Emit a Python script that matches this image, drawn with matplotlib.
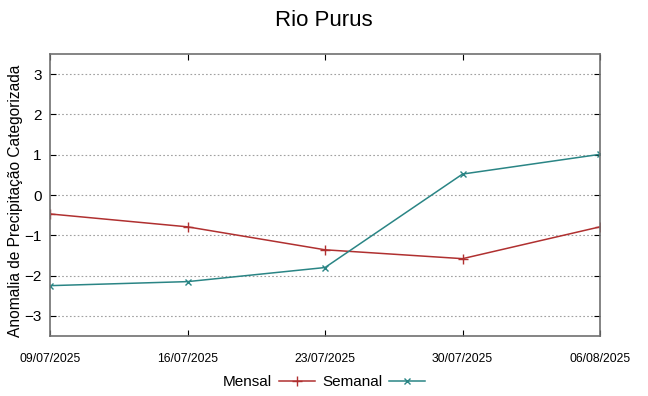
import datetime as dt

import matplotlib
matplotlib.use("Agg")
import matplotlib.pyplot as plt
import matplotlib.dates as mdates


datas = ["09/07/2025", "16/07/2025", "23/07/2025", "30/07/2025", "06/08/2025"]
mensal = [-0.47, -0.79, -1.36, -1.58, -0.79]
semanal = [-2.25, -2.15, -1.80, 0.52, 1.01]
y_ticks = [-3, -2, -1, 0, 1, 2, 3]

plt.rcParams["font.family"] = ["Liberation Sans", "DejaVu Sans"]

dias = [dt.datetime.strptime(d, "%d/%m/%Y") for d in datas]

fig = plt.figure(figsize=(6.48, 3.96), dpi=100)
ax = fig.add_axes([0.0772, 0.1515, 0.8488, 0.7121])

ax.plot(dias, mensal, color="#b03030", lw=1.1, marker="+", ms=7, mew=1.0,
        label="Mensal")
ax.plot(dias, semanal, color="#2a8585", lw=1.1, marker="x", ms=5, mew=1.0,
        label="Semanal")

ax.set_xlim(dias[0], dias[-1])
ax.set_ylim(-3.5, 3.5)
ax.set_yticks(y_ticks)
ax.set_xticks(dias)
ax.xaxis.set_major_formatter(mdates.DateFormatter("%d/%m/%Y"))

ax.grid(axis="y", color="#a0a0a0", linestyle=(0, (1.5, 2)), lw=0.8)
ax.tick_params(axis="y", direction="in", right=True, length=4, labelsize=11,
               color="black", pad=6)
ax.tick_params(axis="x", direction="in", top=True, length=4, labelsize=8.8,
               color="black", pad=12)
for s in ax.spines.values():
    s.set_color("#707070")
    s.set_linewidth(1.2)

ax.set_ylabel("Anomalia de Precipitação Categorizada", fontsize=11.2)
ax.yaxis.set_label_coords(-0.049, 0.48)
fig.suptitle("Rio Purus", fontsize=16, y=0.975)

leg = fig.legend(loc="center", bbox_to_anchor=(0.5, 0.035), ncol=2,
                 frameon=False, markerfirst=False, fontsize=11,
                 handlelength=2.35, columnspacing=0.5, handletextpad=0.45)

fig.savefig("out.png", dpi=100)
